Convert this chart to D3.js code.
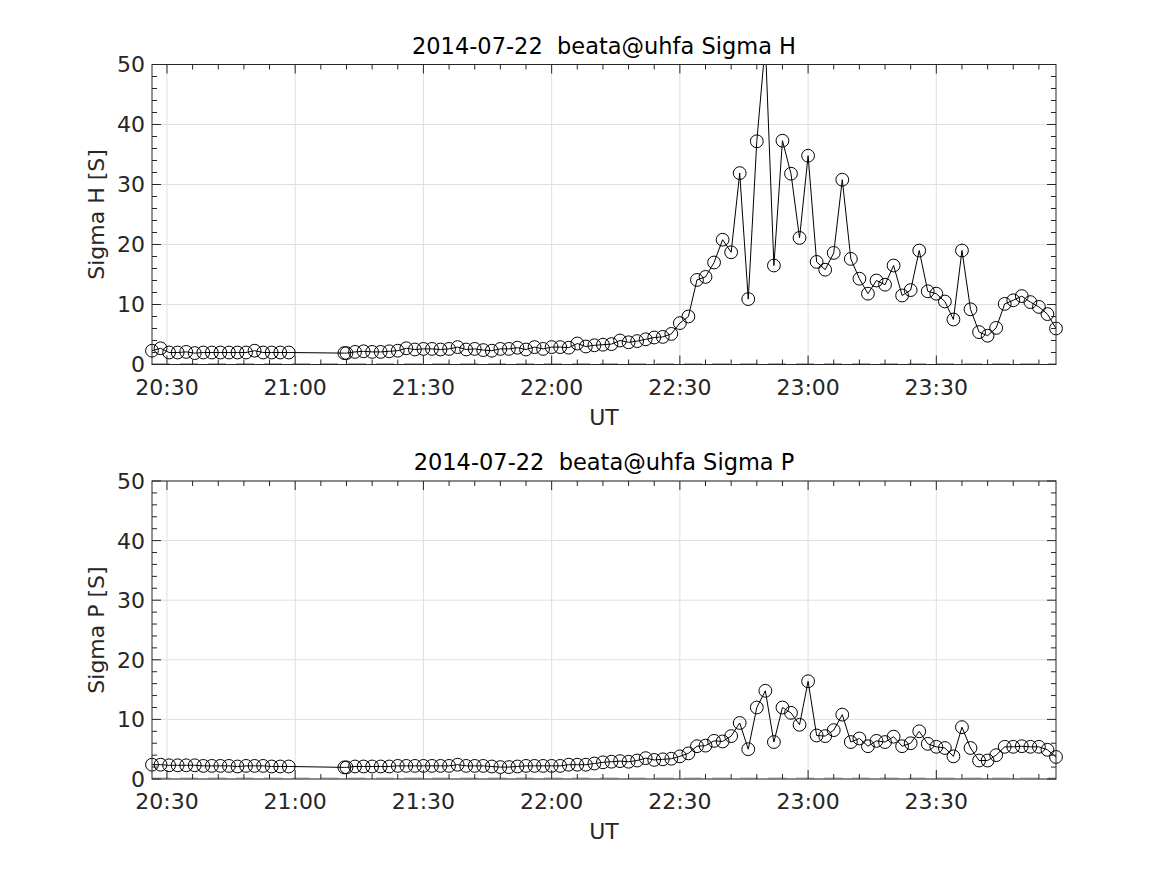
<!DOCTYPE html>
<html>
<head>
<meta charset="utf-8">
<script src="https://cdn.jsdelivr.net/npm/d3@7"></script>
<style>
  body { margin: 0; background: #fff; }
  svg { font-family: "DejaVu Sans", sans-serif; }
  .title { white-space: pre; }
</style>
</head>
<body>
<svg id="chart" width="1167" height="875"></svg>
<script>
// sample times (UT, 2014-07-22): first block every 2 min, two odd samples, then every 2 min again
const block1Start = [20, 26, 30];
const oddTimes = [[21, 11, 30], [21, 12, 0]];
const block2Start = [21, 14, 0];
const stepMinutes = 2;

// Sigma H [S]
const sigmaH1 = [2.3, 2.7, 2.0, 2.0, 2.1, 1.9, 2.0, 2.0, 2.0, 2.0, 2.0, 2.0, 2.3, 2.0, 2.0, 2.0, 2.0];
const sigmaHOdd = [1.9, 1.9];
const sigmaH2 = [
  2.1, 2.2, 2.1, 2.1, 2.2, 2.3, 2.7, 2.5, 2.6, 2.6, 2.5, 2.6, 2.9, 2.5, 2.6, 2.4, 2.3, 2.6, 2.6, 2.8, 2.5, 2.9, 2.6,
  2.9, 2.9, 2.8, 3.5, 3.0, 3.2, 3.3, 3.4, 4.0, 3.7, 3.9, 4.2, 4.5, 4.6, 5.1,
  6.9, 8.0, 14.1, 14.6, 17.0, 20.8, 18.7, 31.9, 10.9, 37.2, 53.5, 16.5, 37.3, 31.8, 21.1,
  34.8, 17.1, 15.8, 18.6, 30.8, 17.6, 14.3, 11.8, 14.0, 13.3, 16.5, 11.5, 12.4, 19.0, 12.2,
  11.8, 10.5, 7.5, 19.0, 9.2, 5.4, 4.8, 6.1, 10.1, 10.7, 11.4, 10.4, 9.6, 8.4, 6.0
];

// Sigma P [S]
const sigmaP1 = [2.4, 2.4, 2.3, 2.3, 2.3, 2.3, 2.2, 2.2, 2.2, 2.2, 2.1, 2.2, 2.2, 2.2, 2.1, 2.1, 2.1];
const sigmaPOdd = [1.95, 1.95];
const sigmaP2 = [
  2.1, 2.1, 2.1, 2.1, 2.1, 2.2, 2.2, 2.2, 2.2, 2.2, 2.2, 2.2, 2.4, 2.2, 2.2, 2.2, 2.1, 2.0, 2.0, 2.1, 2.2, 2.2, 2.2,
  2.2, 2.2, 2.4, 2.4, 2.4, 2.6, 2.8, 2.9, 3.0, 2.9, 3.1, 3.5, 3.2, 3.3, 3.4,
  3.8, 4.3, 5.5, 5.6, 6.4, 6.3, 7.2, 9.4, 5.0, 12.0, 14.8, 6.2, 12.0, 11.1, 9.1,
  16.4, 7.3, 7.2, 8.2, 10.8, 6.2, 6.8, 5.5, 6.4, 6.2, 7.1, 5.5, 6.0, 8.0, 5.9,
  5.4, 5.2, 3.8, 8.7, 5.2, 3.1, 3.1, 4.0, 5.4, 5.4, 5.5, 5.4, 5.4, 4.9, 3.7
];

const xTicks = ["20:30", "21:00", "21:30", "22:00", "22:30", "23:00", "23:30"];
const yTicks = [0, 10, 20, 30, 40, 50];
const titles = ["2014-07-22  beata@uhfa Sigma H", "2014-07-22  beata@uhfa Sigma P"];
const yLabels = ["Sigma H [S]", "Sigma P [S]"];

const utc = (h, m, s) => new Date(Date.UTC(2014, 6, 22, h, m, s));

function buildSeries(first, odd, second) {
  const t1 = utc(...block1Start), t2 = utc(...block2Start);
  const pts = [];
  first.forEach((v, i) => pts.push({ t: d3.utcMinute.offset(t1, i * stepMinutes), v }));
  odd.forEach((v, i) => pts.push({ t: utc(...oddTimes[i]), v }));
  second.forEach((v, i) => pts.push({ t: d3.utcMinute.offset(t2, i * stepMinutes), v }));
  return pts;
}

const seriesList = [
  buildSeries(sigmaH1, sigmaHOdd, sigmaH2),
  buildSeries(sigmaP1, sigmaPOdd, sigmaP2)
];

const svg = d3.select('#chart');
const left = 152, right = 1056;
const panels = [{ top: 64.5, bottom: 364.5 }, { top: 481, bottom: 779 }];
const axisColor = '#262626';

const x = d3.scaleUtc()
  .domain([utc(20, 26, 30), utc(23, 58, 0)])
  .range([left, right]);
const parseTick = d3.utcParse('%Y-%m-%d %H:%M');
const xTickDates = xTicks.map(s => parseTick('2014-07-22 ' + s));
const xMinor = d3.utcMinute.every(6).range(x.domain()[0], x.domain()[1]);
const yMinor = d3.range(0, 50.001, 2);

panels.forEach((p, k) => {
  const data = seriesList[k];
  const y = d3.scaleLinear().domain([0, 50]).range([p.bottom, p.top]);
  const g = svg.append('g');

  // clip for the line
  svg.append('clipPath').attr('id', 'clip' + k)
    .append('rect').attr('x', left).attr('y', p.top)
    .attr('width', right - left).attr('height', p.bottom - p.top);

  // grid
  g.selectAll('.vgrid').data(xTickDates).join('line')
    .attr('x1', d => x(d)).attr('x2', d => x(d))
    .attr('y1', p.top).attr('y2', p.bottom)
    .attr('stroke', '#dfdfdf').attr('stroke-width', 1);
  g.selectAll('.hgrid').data(yTicks).join('line')
    .attr('x1', left).attr('x2', right)
    .attr('y1', d => y(d)).attr('y2', d => y(d))
    .attr('stroke', '#dfdfdf').attr('stroke-width', 1);

  // faint dashed zero line
  g.append('line')
    .attr('x1', left).attr('x2', right)
    .attr('y1', y(0) - 1).attr('y2', y(0) - 1)
    .attr('stroke', '#b0b0b0').attr('stroke-dasharray', '18,10');

  // data line
  const line = d3.line().x(d => x(d.t)).y(d => y(d.v));
  g.append('path').datum(data)
    .attr('clip-path', `url(#clip${k})`)
    .attr('d', line)
    .attr('fill', 'none').attr('stroke', '#000').attr('stroke-width', 1);

  // markers (only those inside the y limits)
  g.selectAll('circle').data(data.filter(d => d.v <= 50)).join('circle')
    .attr('cx', d => x(d.t)).attr('cy', d => y(d.v)).attr('r', 6.4)
    .attr('fill', 'none').attr('stroke', '#000').attr('stroke-width', 1);

  // box
  g.append('rect')
    .attr('x', left).attr('y', p.top)
    .attr('width', right - left).attr('height', p.bottom - p.top)
    .attr('fill', 'none').attr('stroke', axisColor).attr('stroke-width', 1);

  // ticks, inward on all four sides
  const tk = g.append('g').attr('stroke', axisColor).attr('stroke-width', 1);
  xMinor.forEach(d => {
    const xx = x(d);
    const len = xTickDates.some(t => +t === +d) ? 9 : 5;
    tk.append('line').attr('x1', xx).attr('x2', xx).attr('y1', p.bottom).attr('y2', p.bottom - len);
    tk.append('line').attr('x1', xx).attr('x2', xx).attr('y1', p.top).attr('y2', p.top + len);
  });
  yMinor.forEach(d => {
    const yy = y(d);
    const len = yTicks.includes(Math.round(d)) ? 9 : 5;
    tk.append('line').attr('x1', left).attr('x2', left + len).attr('y1', yy).attr('y2', yy);
    tk.append('line').attr('x1', right).attr('x2', right - len).attr('y1', yy).attr('y2', yy);
  });

  // tick labels
  g.selectAll('.xt').data(xTickDates).join('text')
    .attr('x', d => x(d)).attr('y', p.bottom + 30)
    .attr('text-anchor', 'middle').attr('font-size', 22).attr('fill', axisColor)
    .text(d => d3.utcFormat('%H:%M')(d));
  g.selectAll('.yt').data(yTicks).join('text')
    .attr('x', left - 7).attr('y', d => y(d)).attr('dy', '0.36em')
    .attr('text-anchor', 'end').attr('font-size', 22).attr('fill', axisColor)
    .text(d => d);

  // labels and title
  const cx = (left + right) / 2;
  g.append('text').attr('x', cx).attr('y', p.bottom + 60)
    .attr('text-anchor', 'middle').attr('font-size', 22).attr('fill', axisColor)
    .text('UT');
  g.append('text')
    .attr('transform', `translate(104, ${(p.top + p.bottom) / 2}) rotate(-90)`)
    .attr('text-anchor', 'middle').attr('font-size', 22).attr('fill', axisColor)
    .text(yLabels[k]);
  g.append('text').attr('class', 'title')
    .attr('x', cx).attr('y', p.top - 11)
    .attr('text-anchor', 'middle').attr('font-size', 22.5).attr('fill', '#000')
    .text(titles[k]);
});
</script>
</body>
</html>
